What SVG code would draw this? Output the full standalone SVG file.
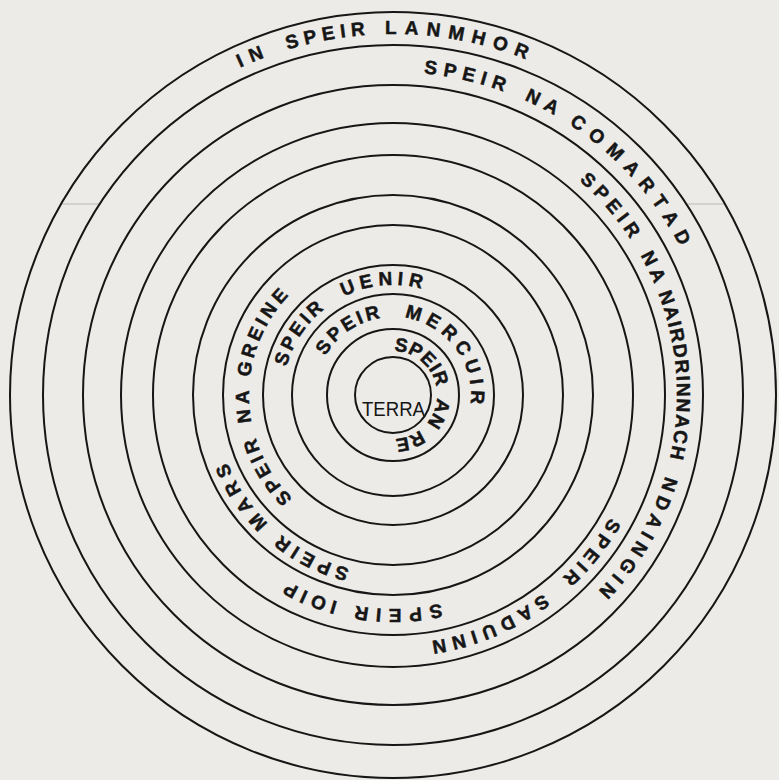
<svg xmlns="http://www.w3.org/2000/svg" width="779" height="780" viewBox="0 0 779 780">
<style>
.ring{fill:none;stroke:#161616;stroke-width:2}
.lbl{font-family:"Liberation Sans",Arial,sans-serif;font-weight:bold;font-size:19px;fill:#161616;stroke:#161616;stroke-width:0.5}
.terra{font-family:"Liberation Sans",Arial,sans-serif;font-size:21px;fill:#161616}
.fold{stroke:#b8b8b6;stroke-width:1}
</style>
<defs>
<path id="p1" d="M393,756 A361,361 0 1 1 393,34 A361,361 0 1 1 393,756"/>
<path id="p2" d="M393,72 A323,323 0 1 1 393,718 A323,323 0 1 1 393,72"/>
<path id="p3" d="M393,111 A284,284 0 1 1 393,679 A284,284 0 1 1 393,111"/>
<path id="p4" d="M393,146 A249,249 0 1 1 393,644 A249,249 0 1 1 393,146"/>
<path id="p5" d="M393,181 A214,214 0 1 1 393,609 A214,214 0 1 1 393,181"/>
<path id="p6" d="M393,216 A179,179 0 1 1 393,574 A179,179 0 1 1 393,216"/>
<path id="p7" d="M393,251 A144,144 0 1 1 393,539 A144,144 0 1 1 393,251"/>
<path id="p8" d="M393,505 A110,110 0 1 1 393,285 A110,110 0 1 1 393,505"/>
<path id="p9" d="M393,473 A78,78 0 1 1 393,317 A78,78 0 1 1 393,473"/>
<path id="p10" d="M393,439 A44,44 0 1 1 393,351 A44,44 0 1 1 393,439"/>
</defs>
<rect width="779" height="780" fill="#ecebe8"/>
<g id="fold-marks">
<line class="fold" x1="61" y1="204" x2="99" y2="204"/>
<line class="fold" x1="687" y1="204" x2="725" y2="204"/>
</g>
<g id="sphere-lanmhor">
<circle class="ring" cx="393" cy="395" r="383"/>
<text class="lbl"><textPath href="#p1" startOffset="976" style="letter-spacing:7.5px">IN </textPath><textPath href="#p1" startOffset="1027" style="letter-spacing:5.5px">SPEIR </textPath><textPath href="#p1" startOffset="1126" style="letter-spacing:7.8px">LANMHOR</textPath></text>
</g>
<g id="sphere-comartad">
<circle class="ring" cx="393" cy="395" r="350"/>
<text class="lbl"><textPath href="#p2" startOffset="31" style="letter-spacing:6.2px">SPEIR </textPath><textPath href="#p2" startOffset="135" style="letter-spacing:6.6px">NA </textPath><textPath href="#p2" startOffset="186" style="letter-spacing:8.2px">COMARTAD</textPath></text>
</g>
<g id="sphere-nairdrinnach">
<circle class="ring" cx="393" cy="395" r="310"/>
<text class="lbl"><textPath href="#p3" startOffset="203" style="letter-spacing:5.2px">SPEIR </textPath><textPath href="#p3" startOffset="300" style="letter-spacing:4.6px">NA </textPath><textPath href="#p3" startOffset="342" style="letter-spacing:1.8px">NAIRDRINNACH </textPath><textPath href="#p3" startOffset="528" style="letter-spacing:5.8px">NDAINGIN</textPath></text>
</g>
<g id="sphere-saduinn">
<circle class="ring" cx="393" cy="395" r="272"/>
<text class="lbl"><textPath href="#p4" startOffset="519" style="letter-spacing:5px">SPEIR </textPath><textPath href="#p4" startOffset="621" style="letter-spacing:6px">SADUINN</textPath></text>
</g>
<g id="sphere-ioip">
<circle class="ring" cx="393" cy="395" r="240"/>
<text class="lbl"><textPath href="#p5" startOffset="624" style="letter-spacing:7.2px">SPEIR </textPath><textPath href="#p5" startOffset="728" style="letter-spacing:5.3px">IOIP</textPath></text>
</g>
<g id="sphere-mars">
<circle class="ring" cx="393" cy="395" r="200"/>
<text class="lbl"><textPath href="#p6" startOffset="606" style="letter-spacing:5px">SPEIR </textPath><textPath href="#p6" startOffset="700" style="letter-spacing:6px">MARS</textPath></text>
</g>
<g id="sphere-greine">
<circle class="ring" cx="393" cy="395" r="170"/>
<text class="lbl"><textPath href="#p7" startOffset="563" style="letter-spacing:3.7px">SPEIR </textPath><textPath href="#p7" startOffset="651" style="letter-spacing:4.6px">NA </textPath><textPath href="#p7" startOffset="696" style="letter-spacing:3.8px">GREINE</textPath></text>
</g>
<g id="sphere-uenir">
<circle class="ring" cx="393" cy="395" r="130"/>
<text class="lbl"><textPath href="#p8" startOffset="201" style="letter-spacing:3.2px">SPEIR </textPath><textPath href="#p8" startOffset="294" style="letter-spacing:5.2px">UENIR</textPath></text>
</g>
<g id="sphere-mercuir">
<circle class="ring" cx="393" cy="395" r="101"/>
<text class="lbl"><textPath href="#p9" startOffset="163" style="letter-spacing:3px">SPEIR </textPath><textPath href="#p9" startOffset="256" style="letter-spacing:5.2px">MERCUIR</textPath></text>
</g>
<g id="sphere-an-re">
<circle class="ring" cx="393" cy="395" r="66"/>
<text class="lbl"><textPath href="#p10" startOffset="139" style="letter-spacing:0.7px">SPEIR </textPath><textPath href="#p10" startOffset="210" style="letter-spacing:0.5px">AN </textPath><textPath href="#p10" startOffset="247" style="letter-spacing:0.5px">RE</textPath></text>
</g>
<g id="terra">
<circle class="ring" cx="393" cy="395" r="38"/>
<text class="terra" x="362" y="416" textLength="63" lengthAdjust="spacingAndGlyphs">TERRA</text>
</g>
</svg>
